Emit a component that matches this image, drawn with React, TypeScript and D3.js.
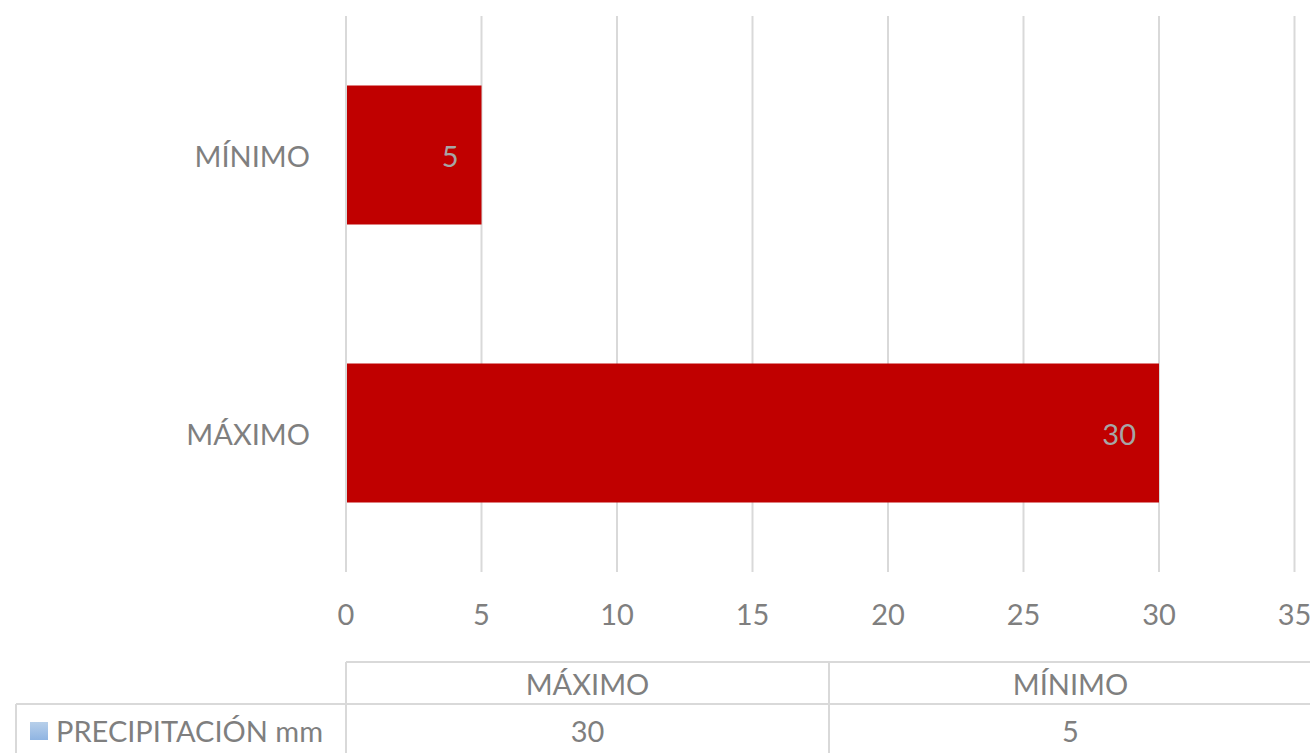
import React from "react";
import * as d3 from "d3";

const categories = ["MÍNIMO", "MÁXIMO"];
const tableOrder = ["MÁXIMO", "MÍNIMO"];
const values = [5, 30];
const seriesName = "PRECIPITACIÓN mm";
const ticks = [0, 5, 10, 15, 20, 25, 30, 35];

const width = 1310;
const height = 753;
const plot = { left: 346, right: 1294.5, top: 16, bottom: 572 };
const font = "Lato, 'Open Sans', sans-serif";
const fontSize = 29;
const gray = "#7f7f7f";
const gridColor = "#d9d9d9";

export default function App() {
  const x = d3.scaleLinear().domain([0, 35]).range([plot.left, plot.right]);
  const y = d3
    .scaleBand<string>()
    .domain(categories)
    .range([plot.top, plot.bottom])
    .paddingInner(0.5)
    .paddingOuter(0.25);

  // data table under the axis
  const col = d3.scaleBand<string>().domain(tableOrder).range([346, 1312]);
  const headTop = 662;
  const rowTop = 704;

  return (
    <svg
      width={width}
      height={height}
      style={{ position: "absolute", left: 0, top: 0, fontFamily: font }}
    >
      <defs>
        <linearGradient id="legendKey" x1="0" y1="0" x2="0" y2="1">
          <stop offset="0" stopColor="#b7cfea" />
          <stop offset="1" stopColor="#8fb4e2" />
        </linearGradient>
      </defs>

      {/* vertical gridlines */}
      {ticks.map((t) => (
        <line
          key={"g" + t}
          x1={x(t)}
          x2={x(t)}
          y1={plot.top}
          y2={plot.bottom}
          stroke={gridColor}
          strokeWidth={2}
        />
      ))}

      {/* bars */}
      {categories.map((c, i) => (
        <rect
          key={c}
          x={x(0) + 1}
          y={y(c)}
          width={x(values[i]) - x(0) - 1}
          height={y.bandwidth()}
          fill="#c00000"
        />
      ))}

      {/* data labels */}
      {categories.map((c, i) => (
        <text
          key={"l" + c}
          x={x(values[i]) - 23}
          y={(y(c) as number) + y.bandwidth() / 2}
          textAnchor="end"
          dominantBaseline="central"
          fontSize={fontSize}
          fill="#a6a6a6"
        >
          {values[i]}
        </text>
      ))}

      {/* category labels */}
      {categories.map((c) => (
        <text
          key={"c" + c}
          x={310}
          y={(y(c) as number) + y.bandwidth() / 2}
          textAnchor="end"
          dominantBaseline="central"
          fontSize={fontSize}
          fill={gray}
        >
          {c}
        </text>
      ))}

      {/* x tick labels */}
      {ticks.map((t) => (
        <text
          key={"t" + t}
          x={x(t)}
          y={613}
          textAnchor="middle"
          dominantBaseline="central"
          fontSize={fontSize}
          fill={gray}
        >
          {t}
        </text>
      ))}

      {/* table grid */}
      <g stroke={gridColor} strokeWidth={2}>
        <line x1={346} x2={1312} y1={headTop} y2={headTop} />
        <line x1={16} x2={1312} y1={rowTop} y2={rowTop} />
        <line x1={16} x2={16} y1={rowTop} y2={height} />
        {tableOrder.map((c) => (
          <line
            key={"v" + c}
            x1={col(c)}
            x2={col(c)}
            y1={headTop}
            y2={height}
          />
        ))}
      </g>

      {tableOrder.map((c) => {
        const cx = (col(c) as number) + col.bandwidth() / 2;
        const v = values[categories.indexOf(c)];
        return (
          <g key={"tb" + c}>
            <text
              x={cx}
              y={(headTop + rowTop) / 2}
              textAnchor="middle"
              dominantBaseline="central"
              fontSize={fontSize}
              fill={gray}
            >
              {c}
            </text>
            <text
              x={cx}
              y={730}
              textAnchor="middle"
              dominantBaseline="central"
              fontSize={fontSize}
              fill={gray}
            >
              {v}
            </text>
          </g>
        );
      })}

      {/* legend key + series name */}
      <rect x={30} y={722} width={18} height={18} fill="url(#legendKey)" />
      <text
        x={56}
        y={730}
        dominantBaseline="central"
        fontSize={fontSize}
        fill={gray}
      >
        {seriesName}
      </text>
    </svg>
  );
}
